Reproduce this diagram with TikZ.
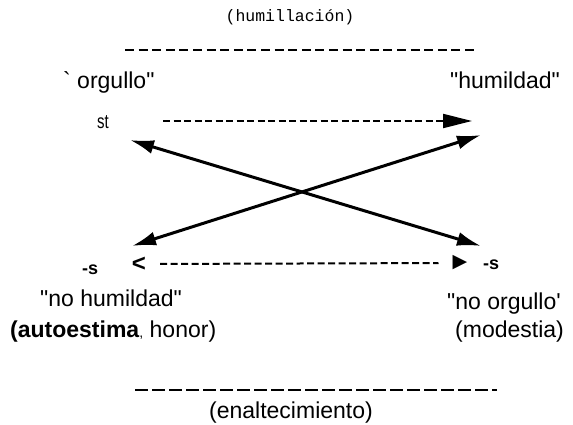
\documentclass[tikz,border=0pt]{standalone}
\usepackage{fontspec}
\usepackage{graphicx}
\setmainfont{Liberation Sans}
\setmonofont{Liberation Mono}
\newfontfamily\symfont{DejaVu Sans}
\usetikzlibrary{arrows.meta}

\tikzstyle{word} = [inner sep=0pt, anchor=base west, font=\fontsize{23}{26}\selectfont]
\tikzstyle{tag} = [inner sep=0pt, anchor=base west, font=\bfseries\fontsize{18}{20}\selectfont]
\tikzstyle{arrow} = [line width=3pt, {Latex[length=24pt,width=14pt]}-{Latex[length=24pt,width=14pt]}]
\tikzstyle{dasharrow} = [line width=2pt, dash pattern=on 7pt off 3.5pt, -{Triangle[length=29pt,width=14pt]}]
\tikzstyle{dashline} = [line width=2pt, dash pattern=on 7pt off 3.5pt]
\tikzstyle{topbar} = [line width=2.6pt, dash pattern=on 9pt off 4.6pt]
\tikzstyle{bottombar} = [line width=1.8pt, dash pattern=on 13pt off 4pt]

\begin{document}
\begin{tikzpicture}[x=1pt, y=-1pt]
\useasboundingbox (0,0) rectangle (573,425);

% top and bottom
\node (humillacion) [inner sep=0pt, anchor=base, font=\ttfamily\fontsize{16.5}{18}\selectfont] at (290,22) {(humillación)};
\draw [topbar] (125,50) -- (476,50);
\draw [bottombar] (135,390) -- (497,390);
\node (enaltecimiento) [word, anchor=base] at (291,418) {(enaltecimiento)};

% corners
\node (orgullo) [word] at (63,89) {\textasciigrave\ orgullo\textquotedbl};
\node (humildad) [word] at (450,89) {\textquotedbl humildad\textquotedbl};
\node (st) [inner sep=0pt, anchor=base west, font=\fontsize{20}{22}\selectfont] at (97,129) {\scalebox{0.75}[1]{st}};
\node (sleft) [tag] at (82,274) {-s};
\node (sright) [tag] at (483,269) {-s};
\node (nohumildad) [word] at (40,306) {\textquotedbl no humildad\textquotedbl};
\node (noorgullo) [word] at (447,309) {\textquotedbl no orgullo\textquotesingle};
\node (autoestima) [word] at (10,337) {\textbf{(autoestima}{\fontsize{14}{16}\selectfont ,} honor)};
\node (modestia) [word] at (455,337) {(modestia)};

% arrows
\coordinate (ul) at (130,140);
\coordinate (ur) at (481,135);
\coordinate (ll) at (132,246);
\coordinate (lr) at (481,246);
\coordinate (ts) at (163,121);
\coordinate (te) at (472,121);
\draw [arrow] (ll) -- (ur);
\draw [arrow] (ul) -- (lr);
\draw [dasharrow] (ts) -- (te);

\node (lt) [inner sep=0pt, font=\bfseries\fontsize{24}{24}\selectfont] at (139,264) {<};
\node (tri) [inner sep=0pt, font=\symfont\fontsize{19}{19}\selectfont] at (460,263) {▶};
\draw [dashline, shorten <=14pt, shorten >=14pt] (lt) -- (tri);
\end{tikzpicture}
\end{document}
